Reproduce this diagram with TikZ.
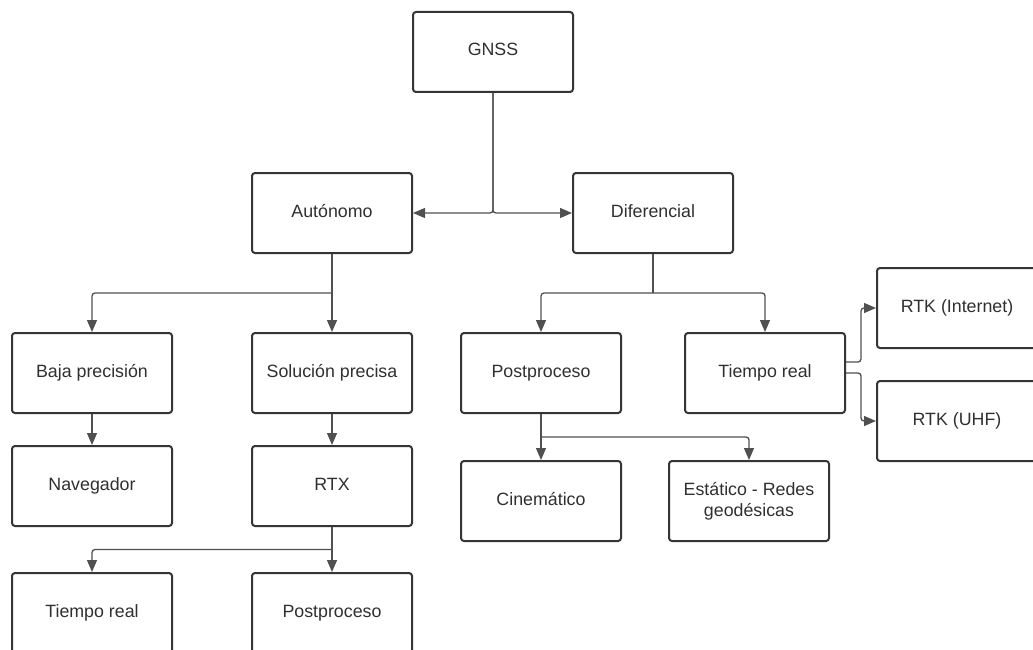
\documentclass[tikz,border=0pt]{standalone}
\usepackage{fontspec}
\setmainfont{Liberation Sans}
\usetikzlibrary{arrows.meta,calc}
\definecolor{boxline}{HTML}{353535}
\definecolor{linkline}{HTML}{505050}
\definecolor{txt}{HTML}{303030}
\tikzset{
  box/.style={draw=boxline, line width=2pt, rounded corners=3pt, fill=white,
    minimum width=160pt, minimum height=80pt, inner sep=0pt,
    font=\fontsize{17.8}{21}\selectfont, text=txt,
    text height=13pt, text depth=5pt},
  twoline/.style={text height=, text depth=, align=center},
  conn/.style={draw=linkline, line width=1.3pt, rounded corners=3pt,
    -{Triangle[length=12pt,width=10pt]}},
  plain/.style={draw=linkline, line width=1.3pt, rounded corners=3pt}
}
\begin{document}
\begin{tikzpicture}[x=1pt,y=-1pt]
\useasboundingbox (0,0) rectangle (1033,650);
\clip (0,0) rectangle (1033,650);
\fill[white] (0,0) rectangle (1033,650);

% nodes
\node[box] (gnss) at (493,52) {GNSS};
\node[box] (aut) at (332,213) {Autónomo};
\node[box] (dif) at (653,213) {Diferencial};
\node[box] (baja) at (92,373) {Baja precisión};
\node[box] (solu) at (332,373) {Solución precisa};
\node[box] (post) at (541,373) {Postproceso};
\node[box] (treal) at (765,373) {Tiempo real};
\node[box] (rtki) at (957,308) {RTK (Internet)};
\node[box] (rtku) at (957,421) {RTK (UHF)};
\node[box] (nav) at (92,486) {Navegador};
\node[box] (rtx) at (332,486) {RTX};
\node[box] (cine) at (541,501) {Cinemático};
\node[box,twoline] (esta) at (749,501) {Estático - Redes\\geodésicas};
\node[box] (treal2) at (92,613) {Tiempo real};
\node[box] (post2) at (332,613) {Postproceso};

% branch points
\coordinate (ja) at ($(aut.south)!0.5!(solu.north)$);
\coordinate (jd) at ($(dif.south)!0.5!(dif.south |- post.north)$);
\coordinate (jr) at ($(rtx.south)!0.5!(post2.north)$);
\coordinate (jp) at ($(post.south)!0.5!(cine.north)$);

% connectors
\draw[conn] (gnss.south) |- (aut.east);
\draw[conn] (gnss.south) |- (dif.west);

\draw[conn] (aut.south) -- (solu.north);
\draw[conn] (ja) -| (baja.north);

\draw[plain] (dif.south) -- (jd);
\draw[conn] (jd) -| (post.north);
\draw[conn] (jd) -| (treal.north);

\draw[conn] ([yshift=11pt]treal.east) -- ++(15,0) |- (rtki.west);
\draw[conn] (treal.east) -- ++(15,0) |- (rtku.west);

\draw[conn] (baja.south) -- (nav.north);
\draw[conn] (solu.south) -- (rtx.north);

\draw[conn] (rtx.south) -- (post2.north);
\draw[conn] (jr) -| (treal2.north);

\draw[conn] (post.south) -- (cine.north);
\draw[conn] (jp) -| (esta.north);
\end{tikzpicture}
\end{document}
